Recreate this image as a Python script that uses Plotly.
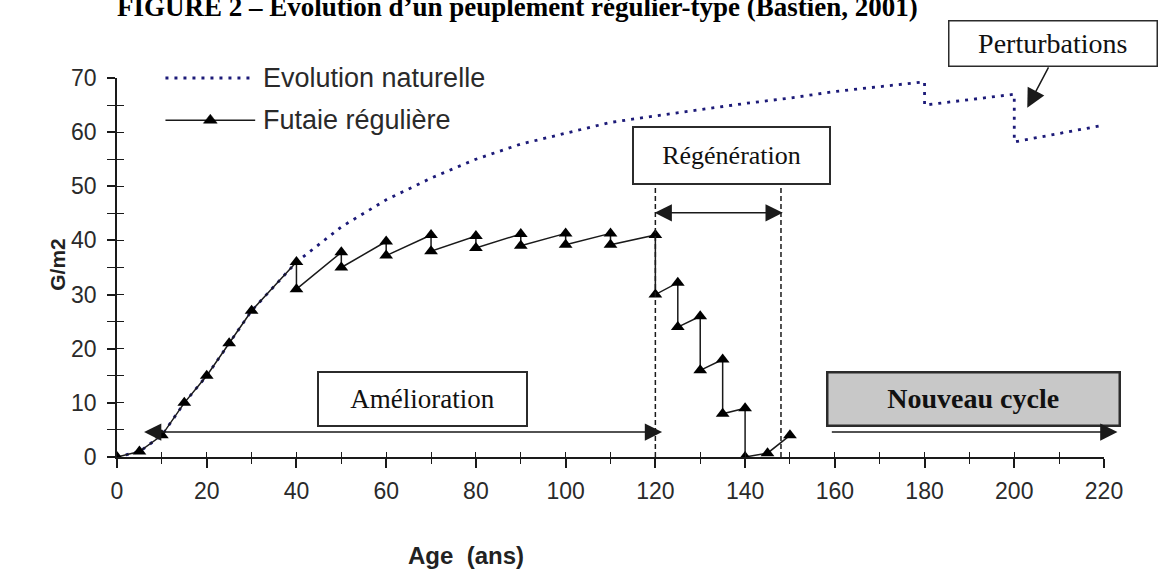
import plotly.graph_objects as go

# Basal area G (m²/ha) against stand age (years)
age_naturelle = [0, 5, 10, 15, 20, 25, 30, 40, 50, 60, 70, 80, 90, 100, 110, 120, 130,
                 140, 150, 160, 170, 180, 180, 190, 200, 200, 210, 220]
g_naturelle = [0, 1, 4, 10, 15, 21, 27, 36, 42.5, 47.5, 51.5, 55, 57.8, 59.8, 61.8, 63, 64.2,
               65.3, 66.3, 67.5, 68.4, 69.3, 65, 66, 67, 58.2, 59.8, 61.3]

age_futaie = [0, 5, 10, 15, 20, 25, 30, 40, 40, 50, 50, 60, 60, 70, 70, 80, 80, 90, 90,
              100, 100, 110, 110, 120, 120, 125, 125, 130, 130, 135, 135, 140, 140, 145, 150]
g_futaie = [0, 1, 4, 10, 15, 21, 27, 36, 31, 37.8, 35, 39.8, 37.2, 41, 38, 40.8, 38.6, 41.2, 39,
            41.3, 39.2, 41.3, 39.2, 41, 30, 32.2, 24, 26, 16, 18, 8, 9, 0, 0.7, 4]

series_names = ["Evolution naturelle", "Futaie régulière"]
x_ticks = list(range(0, 221, 20))
y_ticks = list(range(0, 71, 10))

X_RANGE = [0, 220]
Y_RANGE = [0, 70]
PLOT_W, PLOT_H = 987, 379

NAVY = "#1c1a78"
INK = "#1a1a1a"
SANS = "Liberation Sans, Arial, sans-serif"
SERIF = "Liberation Serif, Times New Roman, serif"
DOTS = "3px,6px"


def xp(x):
    """data x -> paper x"""
    return (x - X_RANGE[0]) / (X_RANGE[1] - X_RANGE[0])


def yp(y):
    """data y -> paper y"""
    return (y - Y_RANGE[0]) / (Y_RANGE[1] - Y_RANGE[0])


fig = go.Figure()

fig.add_trace(go.Scatter(
    x=age_naturelle, y=g_naturelle, mode="lines", name=series_names[0],
    line=dict(color=NAVY, width=2.8, dash=DOTS), showlegend=False,
))
fig.add_trace(go.Scatter(
    x=age_futaie, y=g_futaie, mode="lines+markers", name=series_names[1],
    line=dict(color=INK, width=1.5),
    marker=dict(symbol="triangle-up", size=12, color="black"), showlegend=False,
))
# companion axes carrying the inner half of the crossing tick marks
fig.add_trace(go.Scatter(x=[None], y=[None], xaxis="x2", yaxis="y2",
                         showlegend=False, hoverinfo="skip"))

shapes = []
annotations = []

# ---- hand-drawn legend (top left of the plot area) ----
leg_x0, leg_x1, leg_text = xp(10.8), xp(30.8), xp(32.2)
leg_y = [yp(70), yp(62.2)]
shapes.append(dict(type="line", xref="paper", yref="paper", x0=leg_x0, x1=leg_x1,
                   y0=leg_y[0], y1=leg_y[0], line=dict(color=NAVY, width=2.8, dash=DOTS)))
shapes.append(dict(type="line", xref="paper", yref="paper", x0=leg_x0, x1=leg_x1,
                   y0=leg_y[1], y1=leg_y[1], line=dict(color=INK, width=1.5)))
cx, cy = (leg_x0 + leg_x1) / 2, leg_y[1]
hw, up, dn = 6.9 / PLOT_W, 6 / PLOT_H, 3 / PLOT_H
shapes.append(dict(type="path", xref="paper", yref="paper",
                   path=f"M{cx - hw},{cy - dn} L{cx + hw},{cy - dn} L{cx},{cy + up} Z",
                   fillcolor="black", line=dict(color="black", width=0.5)))
for name, y in zip(series_names, leg_y):
    annotations.append(dict(text=name, xref="paper", yref="paper", x=leg_text, y=y,
                            xanchor="left", yanchor="middle", showarrow=False,
                            font=dict(family=SANS, size=27, color="#2a2a2a")))

# ---- regeneration period limits ----
for xv in (120, 148):
    shapes.append(dict(type="line", xref="x", yref="y", x0=xv, x1=xv, y0=0, y1=50.3,
                       line=dict(color=INK, width=1.5, dash="5px,3px")))

# ---- labelled boxes ----
def box(text, x, y, w, h, size, xref="x", yref="y", bold=False, bg="white", bw=2):
    annotations.append(dict(
        text=f"<b>{text}</b>" if bold else text, xref=xref, yref=yref, x=x, y=y,
        xanchor="center", yanchor="middle", showarrow=False,
        width=w - bw, height=h - bw, bgcolor=bg, bordercolor="#2b2b2b",
        borderwidth=bw, borderpad=0, font=dict(family=SERIF, size=size, color="#111"),
    ))

box("Amélioration", 68, 10.7, 209, 54, 27)
box("Régénération", 136.9, 55.7, 197, 57, 26)
box("Nouveau cycle", 190.8, 10.7, 292, 53, 28, bold=True, bg="#c8c8c8", bw=2.5)
box("Perturbations", xp(208.6), yp(76.4), 208, 45, 28, xref="paper", yref="paper", bw=1.5)

# ---- arrows ----
def arrow(x_head, y_head, x_tail, y_tail, both=False, size=2.3):
    annotations.append(dict(
        text="", x=x_head, y=y_head, ax=x_tail, ay=y_tail, xref="x", yref="y",
        axref="x", ayref="y", showarrow=True, arrowhead=2, startarrowhead=2,
        arrowside="end+start" if both else "end", arrowsize=size, startarrowsize=size,
        arrowwidth=1.5, arrowcolor=INK, standoff=0, startstandoff=0,
    ))

arrow(121.5, 4.6, 5.7, 4.6, both=True)
arrow(148.4, 45.1, 119.5, 45.1, both=True)
# 'Nouveau cycle' arrow runs slightly past the end of the axis
annotations.append(dict(
    text="", x=xp(223), y=yp(4.6), xref="paper", yref="paper",
    ax=-(223 - 159) * PLOT_W / 220, ay=0, showarrow=True, arrowhead=2,
    arrowsize=2.3, arrowwidth=1.5, arrowcolor=INK, standoff=0,
))
# 'Perturbations' pointer
annotations.append(dict(
    text="", x=202.9, y=64.5, xref="x", yref="y", ax=22, ay=-42, showarrow=True,
    arrowhead=2, arrowsize=2.5, arrowwidth=1.5, arrowcolor=INK, standoff=0,
))

# ---- titles ----
annotations.append(dict(
    text="<b>FIGURE 2 – Evolution d’un peuplement régulier-type (Bastien, 2001)</b>",
    xref="paper", yref="paper", x=-0.002, y=(457 - 7) / PLOT_H,
    xanchor="left", yanchor="middle", showarrow=False,
    font=dict(family=SERIF, size=27, color="black"),
))
annotations.append(dict(
    text="<b>Age\u00a0\u00a0(ans)</b>", xref="paper", yref="paper",
    x=xp(77.8), y=-98 / PLOT_H, xanchor="center", yanchor="middle", showarrow=False,
    font=dict(family=SANS, size=24, color="#222"),
))
annotations.append(dict(
    text="<b>G/m2</b>", xref="paper", yref="paper", textangle=-90,
    x=-59 / PLOT_W, y=yp(35.5), xanchor="center", yanchor="middle", showarrow=False,
    font=dict(family=SANS, size=21, color="#222"),
))

tick_font = dict(family=SANS, size=23, color="#2a2a2a")

fig.update_layout(
    width=1160, height=571,
    margin=dict(l=117, r=56, t=78, b=114),
    paper_bgcolor="white", plot_bgcolor="white",
    showlegend=False,
    shapes=shapes, annotations=annotations,
    xaxis=dict(range=X_RANGE, tickmode="array", tickvals=x_ticks,
               ticktext=[str(v) for v in x_ticks], ticks="outside", ticklen=9,
               tickwidth=1.5, tickcolor=INK, showline=True, linecolor=INK, linewidth=1.5,
               showgrid=False, zeroline=False, tickfont=tick_font, ticklabelstandoff=4,
               minor=dict(dtick=10, tick0=0, ticks="outside", ticklen=5, tickwidth=1.3,
                          tickcolor=INK, showgrid=False)),
    yaxis=dict(range=Y_RANGE, tickmode="array", tickvals=y_ticks,
               ticktext=[str(v) for v in y_ticks], ticks="outside", ticklen=8,
               tickwidth=1.5, tickcolor=INK, showline=True, linecolor=INK, linewidth=1.5,
               showgrid=False, zeroline=False, tickfont=tick_font, ticklabelstandoff=6,
               minor=dict(dtick=5, tick0=0, ticks="outside", ticklen=8, tickwidth=1.3,
                          tickcolor=INK, showgrid=False)),
    xaxis2=dict(range=X_RANGE, overlaying="x", anchor="y", side="bottom",
                tickmode="linear", tick0=0, dtick=10, ticks="inside", ticklen=5,
                tickwidth=1.3, tickcolor=INK, showticklabels=False, showline=False,
                showgrid=False, zeroline=False),
    yaxis2=dict(range=Y_RANGE, overlaying="y", anchor="x", side="left",
                tickmode="linear", tick0=0, dtick=5, ticks="inside", ticklen=7,
                tickwidth=1.3, tickcolor=INK, showticklabels=False, showline=False,
                showgrid=False, zeroline=False),
)

fig.write_html("out.html")
